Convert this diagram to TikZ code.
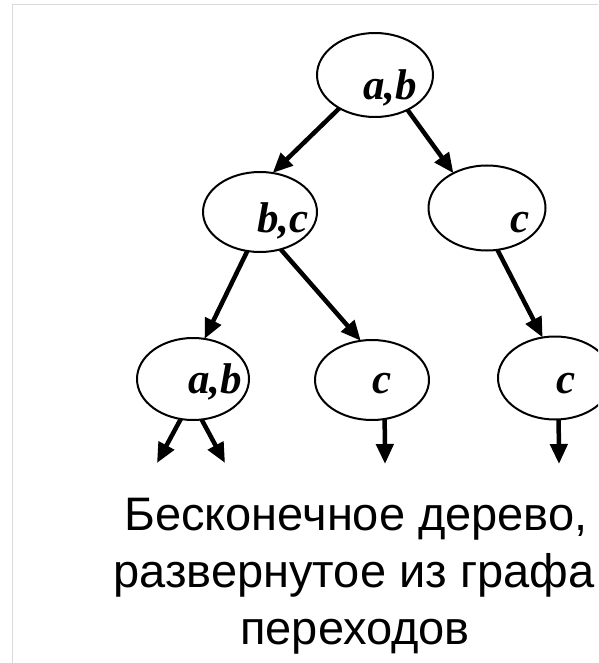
\documentclass[tikz,border=0pt]{standalone}
\usepackage{fontspec}
\setmainfont{Liberation Sans}
\newfontfamily\lblfont{Liberation Serif}
\usetikzlibrary{shapes.geometric,arrows.meta}
\begin{document}
\begin{tikzpicture}[x=1pt,y=-1pt,
  st/.style={draw=black, line width=2pt, ellipse, inner sep=0pt, outer sep=0pt},
  lbl/.style={anchor=base, font=\lblfont\bfseries\itshape\fontsize{43}{43}\selectfont, inner sep=0pt},
  arr/.style={line width=4.5pt, -{Triangle[length=20pt,width=17pt]}},
  captext/.style={anchor=base, font=\fontsize{47}{57}\selectfont, inner sep=0pt}]
\useasboundingbox (0,0) rectangle (598,663);
\clip (0,0) rectangle (598,663);
\draw[black!15, line width=1.5pt] (12.5,663) -- (12.5,4.5) -- (598,4.5);
% ellipses
\node[st, minimum width=116pt, minimum height=84pt] (r)  at (375,75) {};
\node[st, minimum width=114pt, minimum height=80pt] (bc) at (260,212) {};
\node[st, minimum width=117pt, minimum height=85pt] (c1) at (487,208) {};
\node[st, minimum width=112pt, minimum height=82pt] (ab) at (193,379) {};
\node[st, minimum width=114pt, minimum height=80pt] (c2) at (372,380) {};
\node[st, minimum width=114pt, minimum height=83pt] (c3) at (555,378) {};
% labels
\node[lbl] (rl)  at (390,100) {a,b};
\node[lbl] (bcl) at (283,232) {b,c};
\node[lbl] (c1l) at (520,232) {c};
\node[lbl] (abl) at (215,393) {a,b};
\node[lbl] (c2l) at (382,393) {c};
\node[lbl] (c3l) at (566,393) {c};
% free ends
\coordinate (e1) at (157,463);
\coordinate (e2) at (225,463);
\coordinate (e3) at (385,464);
\coordinate (e4) at (559,464);
% arrows
\draw[arr] (r.223) -- (bc.72);
\draw[arr] (r.313) -- (c1.134);
\draw[arr] (bc.252) -- (ab.74);
\draw[arr] (bc.299) -- (c2.106);
\draw[arr] (c1.284) -- (c3.107);
\draw[arr] (ab.253) -- (e1);
\draw[arr] (ab.282) -- (e2);
\draw[arr] (c2.288) -- (e3);
\draw[arr] (c3.275) -- (e4);
% caption
\node[captext] (t1) at (356,530) {Бесконечное дерево,};
\node[captext] (t2) at (354,587) {развернутое из графа};
\node[captext] (t3) at (355,644) {переходов};
\end{tikzpicture}
\end{document}
